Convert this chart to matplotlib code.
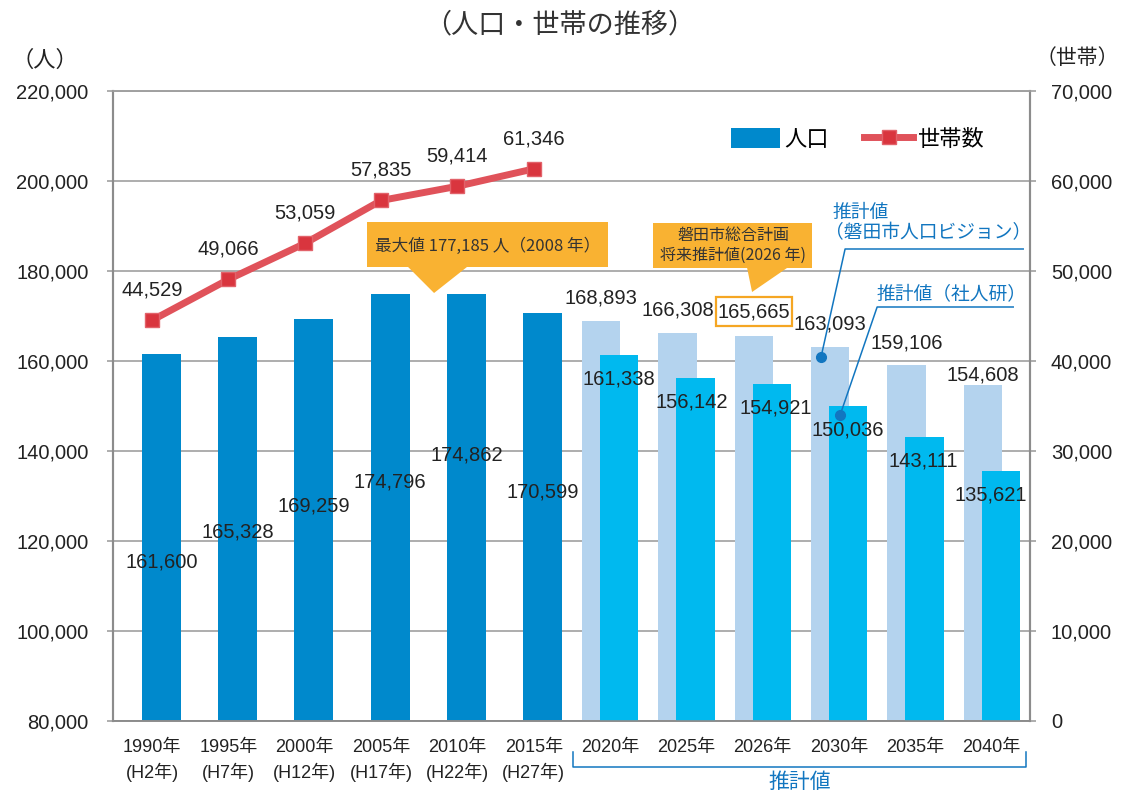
import numpy as np
import matplotlib
matplotlib.use('Agg')
import matplotlib.pyplot as plt
import matplotlib.transforms as mtransforms
from matplotlib.patches import Patch, Polygon, Rectangle
from matplotlib.lines import Line2D

plt.rcParams['font.family'] = ['Liberation Sans', 'Noto Sans CJK JP']

# data
years = ['1990年', '1995年', '2000年', '2005年', '2010年', '2015年',
         '2020年', '2025年', '2026年', '2030年', '2035年', '2040年']
wareki = ['(H2年)', '(H7年)', '(H12年)', '(H17年)', '(H22年)', '(H27年)']
pop_actual = [161600, 165328, 169259, 174796, 174862, 170599]
pop_vision = [168893, 166308, 165665, 163093, 159106, 154608]
pop_ipss = [161338, 156142, 154921, 150036, 143111, 135621]
households = [44529, 49066, 53059, 57835, 59414, 61346]

# label placement (layout only)
hist_label_y = [115333, 122000, 127778, 133111, 139111, 130889]
vision_label_y = [174000, 171333, 170889, 168222, 164000, 156889]
ipss_label_dx = [0, -3, 3, 0, -1, -7]

C_DARK = '#0089cc'
C_LIGHT = '#b4d3ee'
C_CYAN = '#00b9ef'
C_RED = '#e0525a'
C_ORANGE = '#f9b232'
C_LEAD = '#1276c0'
C_TEXT = '#222222'
C_GRID = '#a0a0a0'

fig = plt.figure(figsize=(11.21, 7.94), dpi=100)
ax = fig.add_axes([113 / 1121, 73 / 794, 917 / 1121, 630 / 794])
ax2 = ax.twinx()

xh = np.arange(len(pop_actual))
xp = np.arange(len(pop_actual), len(years))

ax.bar(xh, pop_actual, width=0.51, color=C_DARK, zorder=2)
ax.bar(xp - 0.236, pop_vision, width=0.5, color=C_LIGHT, zorder=2)
ax.bar(xp, pop_ipss, width=0.5, color=C_CYAN, zorder=3)

ax.set_xlim(-0.633, 11.383)
ax.set_ylim(80000, 220000)
yt = np.arange(80000, 220001, 20000)
ax.set_yticks(yt, [f'{v:,}' for v in yt])
ax.yaxis.grid(True, color=C_GRID, linewidth=1.2, zorder=0)
ax.set_axisbelow(True)

xt_labels = [f'{y}\n{w}' for y, w in zip(years, wareki)] + years[len(wareki):]
ax.set_xticks(np.arange(len(years)) - 0.12, xt_labels)
ax.tick_params(axis='x', length=0, pad=13, labelsize=13, colors=C_TEXT)
for t in ax.get_xticklabels():
    t.set_linespacing(1.42)
ax.tick_params(axis='y', direction='out', length=4.5, width=1.2, color=C_GRID,
               pad=13, labelsize=14.5, labelcolor=C_TEXT)

ax2.set_ylim(0, 70000)
yt2 = np.arange(0, 70001, 10000)
ax2.set_yticks(yt2, [f'{v:,}' for v in yt2])
ax2.tick_params(axis='y', direction='out', length=4, width=1.2, color=C_GRID,
                pad=11, labelsize=14.5, labelcolor=C_TEXT)

for a in (ax, ax2):
    for s in a.spines.values():
        s.set_color('#8c8c8c')
        s.set_linewidth(1.5)
    a.spines['top'].set_linewidth(1.2)
    a.spines['top'].set_color(C_GRID)
    a.spines['bottom'].set_linewidth(1.2)

ax2.plot(xh - 0.12, households, color=C_RED, linewidth=5, marker='s',
         markersize=9.5, markerfacecolor='#d9353e', markeredgecolor='#e2626a',
         markeredgewidth=1, zorder=5)

# value labels
for x, v, ly in zip(xh, pop_actual, hist_label_y):
    ax.text(x, ly, f'{v:,}', ha='center', va='center', fontsize=14.5, color=C_TEXT, zorder=6)
for x, v, ly in zip(xp - 0.236, pop_vision, vision_label_y):
    ax.text(x, ly, f'{v:,}', ha='center', va='center', fontsize=14.5, color=C_TEXT, zorder=6)
for x, v, dx in zip(xp, pop_ipss, ipss_label_dx):
    ax.annotate(f'{v:,}', (x, v), xytext=(dx, -17.3), textcoords='offset points',
                ha='center', va='center', fontsize=14.5, color=C_TEXT, zorder=6)
for x, v in zip(xh - 0.12, households):
    ax2.annotate(f'{v:,}', (x, v), xytext=(0, 21.6), textcoords='offset points',
                 ha='center', va='center', fontsize=14.5, color=C_TEXT, zorder=6)

# box around 2026 value
ax.add_patch(Rectangle((7.270, 167778), 0.996, 6444, fill=False,
                       edgecolor='#f5a623', linewidth=1.6, zorder=6))

# callout: maximum
ax.add_patch(Rectangle((2.696, 180889), 3.159, 10000, facecolor=C_ORANGE,
                       edgecolor='none', zorder=7))
ax.add_patch(Polygon([(3.233, 180900), (4.006, 180900), (3.574, 175111)],
                     closed=True, facecolor=C_ORANGE, edgecolor='none', zorder=7))
ax.text(4.275, 185600, '最大値 177,185 人（2008 年）', ha='center', va='center',
        fontsize=12, family=['Noto Sans CJK JP'], color='#333333', zorder=8)

# callout: 2026 plan
ax.add_patch(Rectangle((6.445, 180667), 2.084, 10000, facecolor=C_ORANGE,
                       edgecolor='none', zorder=7))
ax.add_patch(Polygon([(7.676, 180680), (8.200, 180680), (7.741, 175333)],
                     closed=True, facecolor=C_ORANGE, edgecolor='none', zorder=7))
ax.text(7.493, 188000, '磐田市総合計画', ha='center', va='center',
        fontsize=11.5, family=['Noto Sans CJK JP'], color='#333333', zorder=8)
ax.text(7.493, 183556, '将来推計値(2026 年)', ha='center', va='center',
        fontsize=11.5, family=['Noto Sans CJK JP'], color='#333333', zorder=8)

# leader annotations
ax.plot([8.645, 8.960, 11.294], [160889, 184889, 184889], color=C_LEAD,
        linewidth=1.1, zorder=8)
ax.plot([8.645], [160889], 'o', color=C_LEAD, markersize=7, zorder=8)
ax.text(8.79, 193111, '推計値', ha='left', va='center', fontsize=13.5,
        family=['Noto Sans CJK JP'], color=C_LEAD, zorder=8)
ax.text(8.70, 188444, '（磐田市人口ビジョン）', ha='left', va='center', fontsize=13.5,
        family=['Noto Sans CJK JP'], color=C_LEAD, zorder=8)
ax.plot([8.895, 9.380, 11.163], [148000, 172000, 172000], color=C_LEAD,
        linewidth=1.1, zorder=8)
ax.plot([8.895], [148000], 'o', color=C_LEAD, markersize=7, zorder=8)
ax.text(9.367, 174900, '推計値（社人研）', ha='left', va='center', fontsize=13.5,
        family=['Noto Sans CJK JP'], color=C_LEAD, zorder=8)

# bracket for projection period
trans = mtransforms.blended_transform_factory(ax.transData, ax.transAxes)
ax.plot([5.396, 5.396, 11.333, 11.333], [-0.049, -0.073, -0.073, -0.049],
        transform=trans, color=C_LEAD, linewidth=1.1, clip_on=False)
ax.text(8.372, -0.097, '推計値', transform=trans, ha='center', va='center',
        fontsize=15, family=['Noto Sans CJK JP'], color=C_LEAD)

# legend
handles = [Patch(facecolor=C_DARK, edgecolor='none'),
           Line2D([], [], color=C_RED, linewidth=5, marker='s', markersize=9.5,
                  markerfacecolor='#d9353e', markeredgecolor='#e2626a')]
leg = ax.legend(handles, ['人口', '世帯数'], ncol=2, frameon=False, loc='upper left',
                bbox_to_anchor=((731 - 113) / 917, (721 - 128) / 630),
                borderaxespad=0, borderpad=0, handlelength=2.2, handleheight=1.0,
                handletextpad=0.2, columnspacing=1.6,
                prop={'family': ['Noto Sans CJK JP'], 'size': 16})
leg.set_zorder(9)

# titles and units
fig.text(0.4996, 1 - 25 / 794, '（人口・世帯の推移）', ha='center', va='center',
         fontsize=19.5, family=['Noto Sans CJK JP'], color='#333333')
fig.text(45 / 1121, 1 - 60 / 794, '（人）', ha='center', va='center',
         fontsize=16, family=['Noto Sans CJK JP'], color=C_TEXT)
fig.text(1077 / 1121, 1 - 58 / 794, '（世帯）', ha='center', va='center',
         fontsize=15, family=['Noto Sans CJK JP'], color=C_TEXT)

fig.savefig('out.png', dpi=100)
